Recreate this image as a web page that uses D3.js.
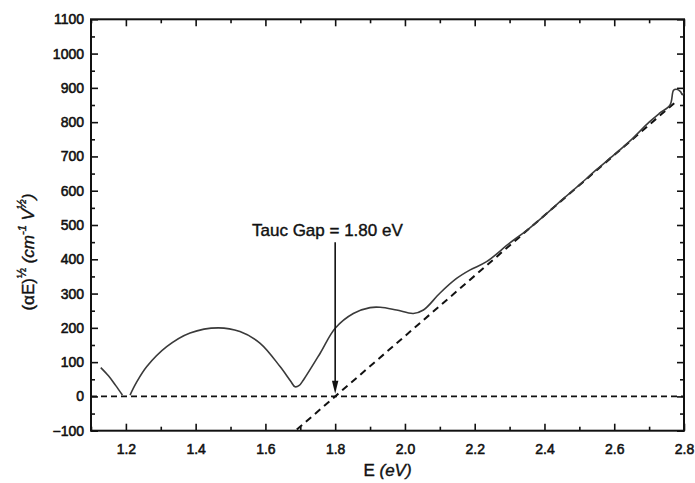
<!DOCTYPE html>
<html>
<head>
<meta charset="utf-8">
<script src="https://cdn.jsdelivr.net/npm/d3@7"></script>
<style>
  html, body { margin: 0; padding: 0; background: #fff; }
  svg { display: block; }
  text { font-family: "Liberation Sans", Arial, Helvetica, sans-serif; fill: #111; }
</style>
</head>
<body>
<svg id="chart" width="695" height="483"></svg>
<script>
// Tauc plot: (αE)^½ versus photon energy E

// low-energy branch (left of the small gap near 1.2 eV)
const energyLow = [1.128, 1.15, 1.17, 1.19];
const tauLow    = [84, 60, 33, 4];

// main measured branch
const energyMain = [1.212, 1.23, 1.26, 1.317, 1.384, 1.465, 1.527, 1.585, 1.642, 1.672, 1.685, 1.697, 1.709,
                    1.757, 1.80, 1.852, 1.90, 1.929, 1.976, 2.024, 2.053, 2.10, 2.148, 2.187, 2.234, 2.30,
                    2.35, 2.40, 2.45, 2.50, 2.55, 2.60, 2.65, 2.70, 2.73, 2.76, 2.770, 2.778, 2.790, 2.795, 2.800];
const tauMain    = [4, 40, 87, 145, 185, 200, 189, 155, 87, 45, 28, 32, 48,
                    126, 199, 242, 259, 260, 252, 242, 252, 301, 344, 369, 393, 447,
                    485, 528, 573, 617, 662, 705, 750, 800, 826, 850, 893, 896, 889, 880, 887];

// linear fit of the absorption edge and the zero baseline
const fitEnergy = [1.69, 2.78];
const fitSlope = 880;          // per eV
const gapEnergy = 1.80;        // intercept with zero
const baselineEnergy = [1.1, 2.8];

// axis ticks
const xTicksMajor = [1.2, 1.4, 1.6, 1.8, 2.0, 2.2, 2.4, 2.6, 2.8];
const xTicksMinor = [1.1, 1.3, 1.5, 1.7, 1.9, 2.1, 2.3, 2.5, 2.7];
const yTicksMajor = [-100, 0, 100, 200, 300, 400, 500, 600, 700, 800, 900, 1000, 1100];
const yTicksMinor = [-50, 50, 150, 250, 350, 450, 550, 650, 750, 850, 950, 1050];

const gapLabel = "Tauc Gap = 1.80 eV";
const arrowTop = 450, arrowTip = 8;

const svg = d3.select("#chart");
const m = { left: 91, right: 684, top: 19.3, bottom: 430.7 };

const x = d3.scaleLinear().domain([1.1, 2.8]).range([m.left, m.right]);
const y = d3.scaleLinear().domain([-100, 1100]).range([m.bottom, m.top]);

const fmtX = d3.format(".1f");

// major ticks (inward) with labels on bottom and left
const axB = svg.append("g").attr("transform", `translate(0,${m.bottom})`)
  .call(d3.axisBottom(x).tickValues(xTicksMajor).tickSize(-7).tickPadding(13).tickFormat(fmtX));
const axL = svg.append("g").attr("transform", `translate(${m.left},0)`)
  .call(d3.axisLeft(y).tickValues(yTicksMajor).tickSize(-7).tickPadding(7).tickFormat(d3.format("d")));
// minor ticks bottom/left
const axBm = svg.append("g").attr("transform", `translate(0,${m.bottom})`)
  .call(d3.axisBottom(x).tickValues(xTicksMinor).tickSize(-4).tickFormat(""));
const axLm = svg.append("g").attr("transform", `translate(${m.left},0)`)
  .call(d3.axisLeft(y).tickValues(yTicksMinor).tickSize(-4).tickFormat(""));
// mirrored ticks top/right
const axT = svg.append("g").attr("transform", `translate(0,${m.top})`)
  .call(d3.axisTop(x).tickValues(xTicksMajor).tickSize(-7).tickFormat(""));
const axTm = svg.append("g").attr("transform", `translate(0,${m.top})`)
  .call(d3.axisTop(x).tickValues(xTicksMinor).tickSize(-4).tickFormat(""));
const axR = svg.append("g").attr("transform", `translate(${m.right},0)`)
  .call(d3.axisRight(y).tickValues(yTicksMajor).tickSize(-7).tickFormat(""));
const axRm = svg.append("g").attr("transform", `translate(${m.right},0)`)
  .call(d3.axisRight(y).tickValues(yTicksMinor).tickSize(-4).tickFormat(""));

[axB, axL, axBm, axLm, axT, axTm, axR, axRm].forEach(g => {
  g.select(".domain").remove();
  g.selectAll(".tick line").attr("stroke", "#111").attr("stroke-width", 1.6);
  g.selectAll(".tick text").attr("font-size", 14).attr("fill", "#111")
    .style("font-family", "'Liberation Sans', Arial, sans-serif")
    .attr("stroke", "#111").attr("stroke-width", 0.55);
});

// frame
svg.append("rect")
  .attr("x", m.left).attr("y", m.top)
  .attr("width", m.right - m.left).attr("height", m.bottom - m.top)
  .attr("fill", "none").attr("stroke", "#111").attr("stroke-width", 2);

const plot = svg.append("g");

const line = d3.line().x(d => x(d[0])).y(d => y(d[1])).curve(d3.curveCatmullRom.alpha(0.5));

// zero baseline
plot.append("path")
  .datum(baselineEnergy.map(e => [e, 0]))
  .attr("d", d3.line().x(d => x(d[0])).y(d => y(d[1])))
  .attr("fill", "none").attr("stroke", "#111").attr("stroke-width", 1.8)
  .attr("stroke-dasharray", "6,4");

// linear fit of the edge
plot.append("path")
  .datum(fitEnergy.map(e => [e, fitSlope * (e - gapEnergy)]))
  .attr("d", d3.line().x(d => x(d[0])).y(d => y(d[1])))
  .attr("fill", "none").attr("stroke", "#111").attr("stroke-width", 2)
  .attr("stroke-dasharray", "7,5");

// measured curve
[[energyLow, tauLow], [energyMain, tauMain]].forEach(([es, vs]) => {
  plot.append("path")
    .datum(es.map((e, i) => [e, vs[i]]))
    .attr("d", line)
    .attr("fill", "none").attr("stroke", "#3a3a3a").attr("stroke-width", 1.6);
});

// arrow marking the gap
plot.append("line")
  .attr("x1", x(gapEnergy)).attr("x2", x(gapEnergy))
  .attr("y1", y(arrowTop)).attr("y2", y(arrowTip) - 10)
  .attr("stroke", "#111").attr("stroke-width", 1.6);
const tipX = x(gapEnergy), tipY = y(arrowTip);
plot.append("path")
  .attr("d", `M${tipX},${tipY} L${tipX - 3.2},${tipY - 13} L${tipX + 3.2},${tipY - 13} Z`)
  .attr("fill", "#111");

svg.append("text")
  .attr("x", 252).attr("y", 236)
  .attr("font-size", 17).attr("stroke", "#111").attr("stroke-width", 0.4)
  .text(gapLabel);

// axis titles
const xt = svg.append("text")
  .attr("x", (m.left + m.right) / 2).attr("y", 476)
  .attr("text-anchor", "middle").attr("font-size", 17)
  .attr("stroke", "#111").attr("stroke-width", 0.4);
xt.append("tspan").text("E ");
xt.append("tspan").attr("font-style", "italic").text("(eV)");

const yt = svg.append("text")
  .attr("transform", "translate(34,252) rotate(-90)")
  .attr("text-anchor", "middle").attr("font-size", 17)
  .attr("stroke", "#111").attr("stroke-width", 0.4);
yt.append("tspan").text("(αE)");
yt.append("tspan").attr("font-size", 12).attr("dy", -8).text("½");
yt.append("tspan").attr("dy", 8).attr("font-style", "italic").text(" (cm");
yt.append("tspan").attr("font-size", 11).attr("dy", -8).attr("font-style", "italic").text("-1");
yt.append("tspan").attr("dy", 8).attr("font-style", "italic").text(" V");
yt.append("tspan").attr("font-size", 12).attr("dy", -8).attr("font-style", "italic").text("½");
yt.append("tspan").attr("dy", 8).attr("font-style", "italic").text(")");
</script>
</body>
</html>
